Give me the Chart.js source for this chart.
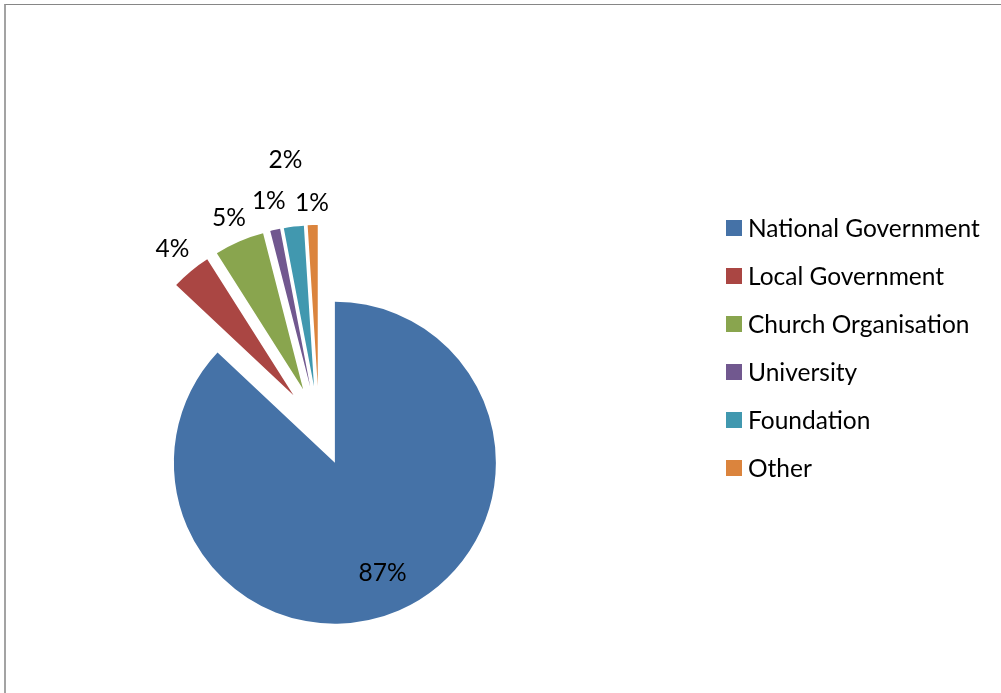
<!DOCTYPE html>
<html>
<head>
<meta charset="utf-8">
<script src="https://cdn.jsdelivr.net/npm/chart.js@4.4.0/dist/chart.umd.min.js"></script>
<style>
  html, body { margin: 0; padding: 0; background: #fff; overflow: hidden; }
  #frame {
    position: absolute; left: 4px; top: 4px; width: 1200px; height: 900px;
    border-top: 1px solid #868686; border-left: 2px solid #a3a3a3;
  }
  #wrap { position: absolute; left: 0; top: 0; width: 1001px; height: 693px; }
</style>
</head>
<body>
<div id="frame"></div>
<div id="wrap"><canvas id="fundingChart" width="1001" height="693"></canvas></div>
<script>
// funding sources and their share (%)
const sources = ['National Government', 'Local Government', 'Church Organisation', 'University', 'Foundation', 'Other'];
const shares = [87, 4, 5, 1, 2, 1];
const sliceColors = ['#4572A7', '#AA4643', '#89A54E', '#71588F', '#4198AF', '#DB843D'];

const FONT = '24.5px Lato, "Liberation Sans", sans-serif';
const EXPLODE = 40;   // every slice is pulled out by this many px

// draw each arc shifted along its bisector (pure translation, no resizing)
const explodedSlices = {
  id: 'explodedSlices',
  beforeDatasetDraw(chart, args) {
    const ctx = chart.ctx;
    args.meta.data.forEach(arc => {
      const mid = (arc.startAngle + arc.endAngle) / 2;
      ctx.save();
      ctx.translate(Math.cos(mid) * EXPLODE, Math.sin(mid) * EXPLODE);
      arc.draw(ctx);
      ctx.restore();
    });
    return false;
  }
};

// percentage labels, measured out from each slice's shifted tip
const sliceLabels = {
  id: 'sliceLabels',
  afterDraw(chart, args, opts) {
    const ctx = chart.ctx;
    const arcs = chart.getDatasetMeta(0).data;
    ctx.save();
    ctx.font = FONT;
    ctx.fillStyle = '#000';
    ctx.textAlign = 'center';
    ctx.textBaseline = 'middle';
    arcs.forEach((arc, i) => {
      const mid = (arc.startAngle + arc.endAngle) / 2;
      const d = EXPLODE + opts.distance[i];
      ctx.fillText(shares[i] + '%', arc.x + Math.cos(mid) * d, arc.y + Math.sin(mid) * d);
    });
    ctx.restore();
  }
};

// Excel-style legend on the right
const sideLegend = {
  id: 'sideLegend',
  afterDraw(chart, args, opts) {
    const ctx = chart.ctx;
    const colors = chart.data.datasets[0].backgroundColor;
    ctx.save();
    ctx.font = FONT;
    ctx.textAlign = 'left';
    ctx.textBaseline = 'middle';
    chart.data.labels.forEach((label, i) => {
      const cy = opts.top + i * opts.step;
      ctx.fillStyle = colors[i];
      ctx.fillRect(opts.left, cy - opts.box / 2, opts.box, opts.box);
      ctx.fillStyle = '#000';
      ctx.fillText(label, opts.left + opts.box + 6, cy + 1);
    });
    ctx.restore();
  }
};

new Chart(document.getElementById('fundingChart'), {
  type: 'pie',
  data: {
    labels: sources,
    datasets: [{
      data: shares,
      backgroundColor: sliceColors,
      borderWidth: 0
    }]
  },
  options: {
    responsive: false,
    devicePixelRatio: 1,
    animation: false,
    radius: 161,
    layout: { padding: { left: 0, right: 363, top: 159, bottom: 0 } },
    events: [],
    plugins: {
      legend: { display: false },
      tooltip: { enabled: false },
      sliceLabels: { distance: [120, 190, 187, 190, 228, 183] },
      sideLegend: { left: 726, top: 228, step: 48, box: 16 }
    }
  },
  plugins: [explodedSlices, sliceLabels, sideLegend]
});
</script>
</body>
</html>
